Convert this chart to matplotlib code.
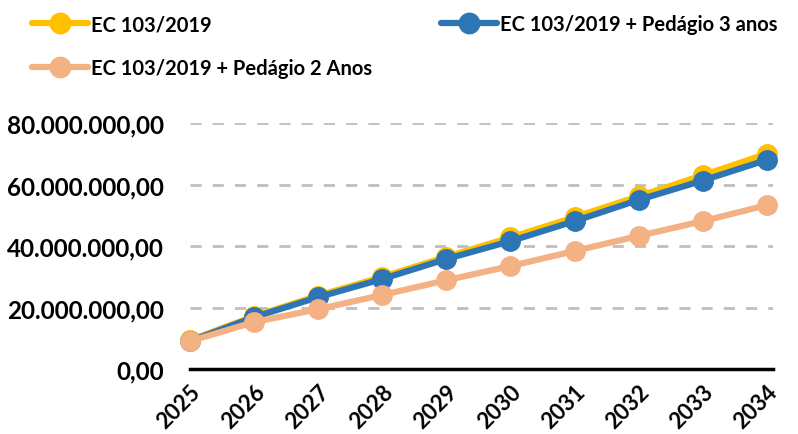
import matplotlib.pyplot as plt
from matplotlib.ticker import FuncFormatter

# dados
anos = [2025, 2026, 2027, 2028, 2029, 2030, 2031, 2032, 2033, 2034]
ec_103 = [9.4e6, 17.2e6, 23.9e6, 30.0e6, 36.5e6, 42.8e6, 49.4e6, 56.2e6, 63.0e6, 70.0e6]
pedagio_3 = [9.1e6, 16.9e6, 23.4e6, 29.3e6, 35.8e6, 41.6e6, 48.1e6, 55.0e6, 61.3e6, 68.0e6]
pedagio_2 = [9.1e6, 15.3e6, 19.5e6, 24.1e6, 28.9e6, 33.5e6, 38.4e6, 43.3e6, 48.1e6, 53.3e6]
y_ticks = [0, 20e6, 40e6, 60e6, 80e6]

plt.rcParams["font.family"] = ["Lato", "DejaVu Sans"]
plt.rcParams["font.weight"] = "bold"

fig = plt.figure(figsize=(7.98, 4.35), dpi=100)
ax = fig.add_axes([0.238, 0.149, 0.731, 0.566])

estilo = dict(lw=4.5, marker="o", ms=14, clip_on=False, solid_capstyle="round")
l1, = ax.plot(anos, ec_103, color="#FFC000", label="EC 103/2019", zorder=3, **estilo)
l3, = ax.plot(anos, pedagio_3, color="#2E75B6", label="EC 103/2019 + Pedágio 3 anos", zorder=4, **estilo)
l2, = ax.plot(anos, pedagio_2, color="#F4B183", label="EC 103/2019 + Pedágio 2 Anos", zorder=5, **estilo)

ax.set_xlim(2025, 2034.1)
ax.set_ylim(0, 80e6)
ax.set_yticks(y_ticks)
ax.yaxis.set_major_formatter(FuncFormatter(
    lambda v, p: f"{v:,.2f}".replace(",", "X").replace(".", ",").replace("X", ".")))
ax.set_xticks(anos)
ax.set_xticklabels([str(a) for a in anos], rotation=45, ha="right", rotation_mode="anchor")

for s in ["top", "right", "left"]:
    ax.spines[s].set_visible(False)
ax.spines["bottom"].set_linewidth(2.5)
ax.spines["bottom"].set_color("black")
ax.tick_params(axis="y", length=0, labelsize=17.5, pad=19)
ax.tick_params(axis="x", length=0, labelsize=16, pad=8)
ax.grid(axis="y", color="#BFBFBF", lw=2, ls=(0, (4, 4)))
ax.set_axisbelow(True)
for g in ax.get_ygridlines()[:1]:
    g.set_visible(False)

fig.legend(handles=[l1, l2, l3], loc="upper left", bbox_to_anchor=(0.04, 0.965), ncol=2,
           frameon=False, fontsize=14.5, handlelength=2.8, columnspacing=3.4,
           labelspacing=1.2, handletextpad=0.15, borderpad=0, borderaxespad=0,
           markerscale=1.05)

fig.savefig("out.png", dpi=100)
